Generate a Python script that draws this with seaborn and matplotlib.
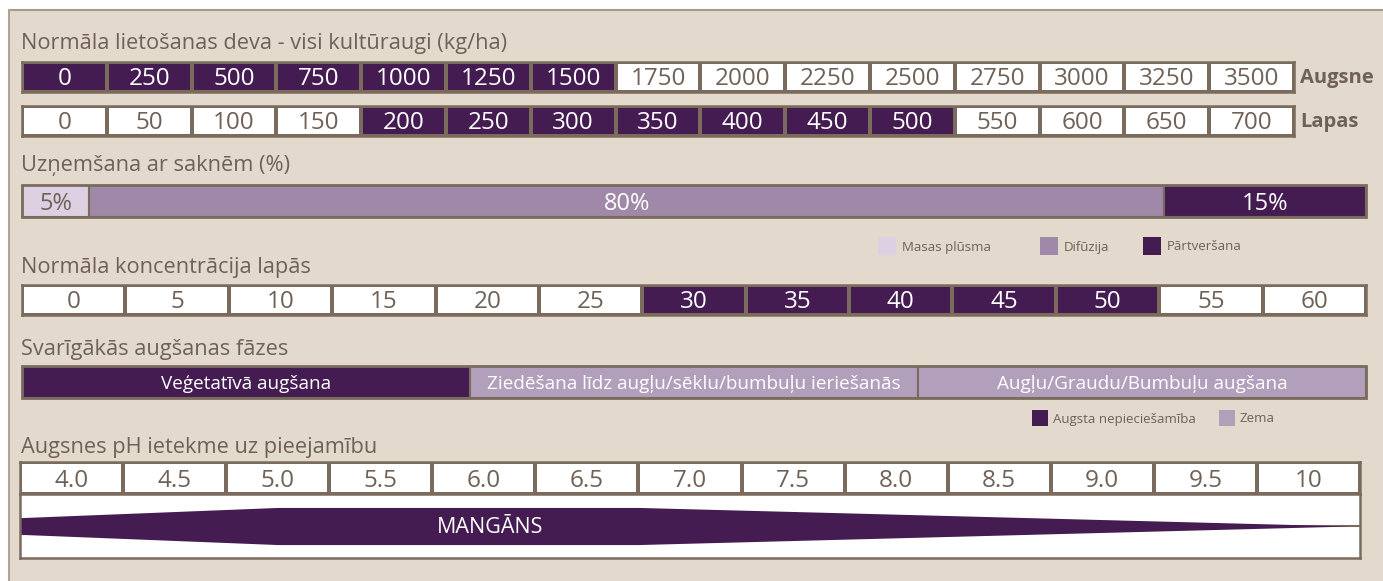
import numpy as np
import matplotlib
matplotlib.use("Agg")
import matplotlib.pyplot as plt
from matplotlib.colors import ListedColormap
from matplotlib.patches import Rectangle
import seaborn as sns

# ---------------- data ----------------
title_dose = "Normāla lietošanas deva - visi kultūraugi (kg/ha)"
augsne_doses = [0, 250, 500, 750, 1000, 1250, 1500, 1750, 2000, 2250, 2500, 2750, 3000, 3250, 3500]
augsne_range = (0, 1500)
lapas_doses = [0, 50, 100, 150, 200, 250, 300, 350, 400, 450, 500, 550, 600, 650, 700]
lapas_range = (200, 500)

title_roots = "Uzņemšana ar saknēm (%)"
root_labels = ["Masas plūsma", "Difūzija", "Pārtveršana"]
root_pct = [5, 80, 15]

title_conc = "Normāla koncentrācija lapās"
conc_values = [0, 5, 10, 15, 20, 25, 30, 35, 40, 45, 50, 55, 60]
conc_range = (30, 50)

title_phase = "Svarīgākās augšanas fāzes"
phases = ["Veģetatīvā augšana",
          "Ziedēšana līdz augļu/sēklu/bumbuļu ieriešanās",
          "Augļu/Graudu/Bumbuļu augšana"]
phase_need = ["Augsta nepieciešamība", "Zema", "Zema"]
phase_legend = ["Augsta nepieciešamība", "Zema"]

title_ph = "Augsnes pH ietekme uz pieejamību"
ph_labels = ["4.0", "4.5", "5.0", "5.5", "6.0", "6.5", "7.0", "7.5", "8.0", "8.5", "9.0", "9.5", "10"]
ph_profile_x = [3.75, 5.0, 6.75, 10.2]
ph_availability = [0.45, 1.0, 1.0, 0.0]
nutrient = "MANGĀNS"

# ---------------- style ----------------
W, H = 1383, 581
BG = "#e4d9cd"
BORDER = "#7b6b5d"
TXT = "#6f6155"
DARK = "#441c52"
MID = "#a088a8"
LIGHT = "#dcd0e2"
LOW = "#b29fbb"

sns.set_theme(style="white")
plt.rcParams["font.family"] = ["Open Sans", "DejaVu Sans"]

fig = plt.figure(figsize=(W / 100, H / 100), dpi=100)
fig.patch.set_facecolor("white")


def px_axes(x0, y0, x1, y1, z=1):
    return fig.add_axes([x0 / W, 1 - y1 / H, (x1 - x0) / W, (y1 - y0) / H], zorder=z)


# background / panel
bg = px_axes(0, 0, W, H, z=0)
bg.set_xlim(0, W)
bg.set_ylim(H, 0)
bg.axis("off")
bg.add_patch(Rectangle((9, 10), W, H, facecolor=BG, edgecolor="none"))
bg.plot([9, W], [10, 10], color="#a89a8e", lw=1.5)
bg.plot([9, 9], [10, H], color="#b0a396", lw=1.5)

TFS = 15.7
bg.text(21, 43, title_dose, fontsize=TFS, color=TXT, va="center")
bg.text(21, 166, title_roots, fontsize=TFS, color=TXT, va="center")
bg.text(21, 268, title_conc, fontsize=TFS, color=TXT, va="center")
bg.text(21, 349, title_phase, fontsize=TFS, color=TXT, va="center")
bg.text(21, 447, title_ph, fontsize=TFS, color=TXT, va="center")
bg.text(1300, 78, "Augsne", fontsize=14.5, color=TXT, va="center", fontweight="bold")
bg.text(1300, 122, "Lapas", fontsize=14.5, color=TXT, va="center", fontweight="bold")

# legends (roots)
for (lx, lab, col) in zip([878, 1040, 1143], root_labels, [LIGHT, MID, DARK]):
    bg.add_patch(Rectangle((lx, 237), 18, 18, facecolor=col, edgecolor="none"))
    bg.text(lx + 24, 247, lab, fontsize=9.5, color=TXT, va="center")
# legends (phases)
for (lx, lab, col) in zip([1032, 1219], phase_legend, [DARK, LOW]):
    bg.add_patch(Rectangle((lx, 410), 16, 16, facecolor=col, edgecolor="none"))
    bg.text(lx + 21, 419, lab, fontsize=9.5, color=TXT, va="center")


def cell_row(x0, y0, x1, y1, labels, high_flags, fs=17.5):
    ax = px_axes(x0, y0, x1, y1, z=2)
    data = np.array([high_flags], dtype=float)
    sns.heatmap(data, cmap=ListedColormap(["white", DARK]), vmin=0, vmax=1, cbar=False,
                linewidths=1.5, linecolor=BORDER, xticklabels=False, yticklabels=False, ax=ax)
    for i, (lab, hi) in enumerate(zip(labels, high_flags)):
        ax.text(i + 0.5, 0.58, lab, ha="center", va="center", fontsize=fs,
                color="white" if hi else TXT)
    for s in ax.spines.values():
        s.set_visible(True)
        s.set_color(BORDER)
        s.set_linewidth(1.8)
    return ax


cell_row(22, 62, 1294, 92, [str(v) for v in augsne_doses],
         [int(augsne_range[0] <= v <= augsne_range[1]) for v in augsne_doses])
cell_row(22, 106, 1294, 136, [str(v) for v in lapas_doses],
         [int(lapas_range[0] <= v <= lapas_range[1]) for v in lapas_doses])
cell_row(22, 285, 1366, 315, [str(v) for v in conc_values],
         [int(conc_range[0] <= v <= conc_range[1]) for v in conc_values])

# stacked percentage bar
ax = px_axes(22, 185, 1366, 217, z=2)
lefts = np.concatenate([[0], np.cumsum(root_pct)[:-1]])
cols = [LIGHT, MID, DARK]
ax.barh([0] * len(root_pct), root_pct, left=lefts, height=1, color=cols,
        edgecolor=BORDER, linewidth=1.5)
for l, w, c in zip(lefts, root_pct, cols):
    ax.text(l + w / 2, -0.08, f"{w}%", ha="center", va="center", fontsize=17,
            color=TXT if c == LIGHT else "white")
ax.set_xlim(0, 100)
ax.set_ylim(-0.5, 0.5)
ax.axis("off")
ax.add_patch(Rectangle((0, -0.5), 100, 1, fill=False, edgecolor=BORDER, lw=2, clip_on=False))

# phases bar
ax = px_axes(22, 366, 1366, 398, z=2)
n = len(phases)
pcol = [DARK if p == phase_legend[0] else LOW for p in phase_need]
ax.barh([0] * n, [1] * n, left=list(range(n)), height=1, color=pcol,
        edgecolor=BORDER, linewidth=1.5)
for i, p in enumerate(phases):
    ax.text(i + 0.5, -0.06, p, ha="center", va="center", fontsize=13.6, color="white")
ax.set_xlim(0, n)
ax.set_ylim(-0.5, 0.5)
ax.axis("off")
ax.add_patch(Rectangle((0, -0.5), n, 1, fill=False, edgecolor=BORDER, lw=2, clip_on=False))

# pH row
cell_row(20, 462, 1360, 494, ph_labels, [0] * len(ph_labels))

# pH availability band
ax = px_axes(20, 494, 1360, 558, z=2)
ax.set_facecolor("white")
ax.set_xlim(3.75, 10.25)
ax.set_ylim(-1, 1)
ax.axhline(0, color=BORDER, lw=1.5, zorder=1)
half = np.array(ph_availability) * 0.58
ax.fill_between(ph_profile_x, -half, half, color=DARK, linewidth=0, zorder=2)
ax.text(6.03, -0.05, nutrient, ha="center", va="center", fontsize=15.5, color="white", zorder=3)
ax.set_xticks([])
ax.set_yticks([])
for s in ax.spines.values():
    s.set_visible(True)
    s.set_color(BORDER)
    s.set_linewidth(1.8)

fig.savefig("out.png", dpi=100, facecolor=fig.get_facecolor())
